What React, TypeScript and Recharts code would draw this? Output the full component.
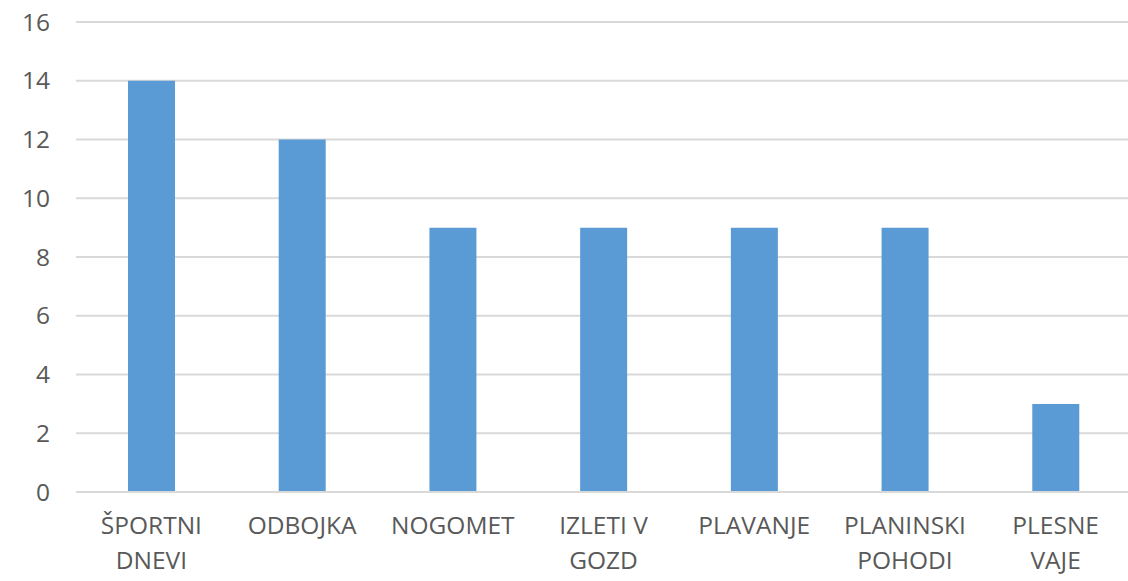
import { Bar, BarChart, CartesianGrid, XAxis, YAxis } from "recharts"

const categories = [
  "ŠPORTNI\nDNEVI",
  "ODBOJKA",
  "NOGOMET",
  "IZLETI V\nGOZD",
  "PLAVANJE",
  "PLANINSKI\nPOHODI",
  "PLESNE\nVAJE",
]
const counts = [14, 12, 9, 9, 9, 9, 3]
const yTicks = [0, 2, 4, 6, 8, 10, 12, 14, 16]

const data = categories.map((name, i) => ({ name, count: counts[i] }))

const font = "'Open Sans', sans-serif"

// category labels are split over two lines at the "\n"
function CategoryTick(props: any) {
  const { x, y, payload } = props
  const lines = String(payload.value).split("\n")
  return (
    <text x={x} y={y} textAnchor="middle" fill="#595959" fontSize={24.5} fontFamily={font}>
      {lines.map((line, i) => (
        <tspan key={i} x={x} dy={i === 0 ? 34 : 35}>
          {line}
        </tspan>
      ))}
    </text>
  )
}

export default function App() {
  return (
    <div style={{ position: "absolute", left: 0, top: 0, width: 1128, height: 581, background: "#fff", overflow: "hidden" }}>
      <BarChart width={1128} height={581} data={data} margin={{ top: 22, right: -3, left: 0, bottom: 59 }}>
        <CartesianGrid vertical={false} stroke="#D9D9D9" strokeWidth={2} />
        <XAxis
          dataKey="name"
          axisLine={{ stroke: "#D9D9D9", strokeWidth: 2 }}
          tickLine={false}
          interval={0}
          tick={<CategoryTick />}
        />
        <YAxis
          width={76}
          domain={[0, 16]}
          ticks={yTicks}
          axisLine={false}
          tickLine={false}
          tickMargin={20}
          tick={{ fill: "#595959", fontSize: 24.5, fontFamily: font }}
        />
        <Bar dataKey="count" fill="#5B9BD5" barSize={47} isAnimationActive={false} />
      </BarChart>
    </div>
  )
}
